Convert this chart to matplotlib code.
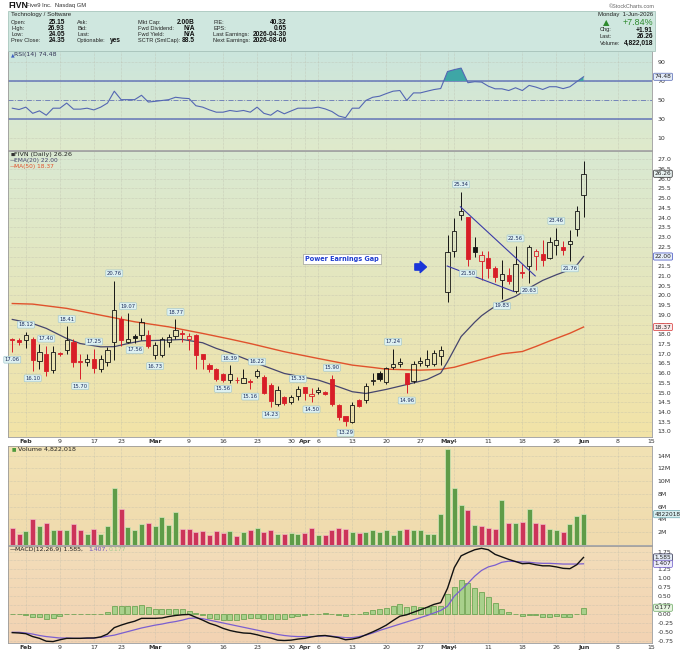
import matplotlib.pyplot as plt
import matplotlib.transforms as mtransforms
import numpy as np
import pandas as pd

# ---- data --------------------------------------------------------------
holidays = ["2026-02-16", "2026-04-03", "2026-05-25"]
first_day, last_day = "2026-01-29", "2026-06-15"
prev_close0 = 17.80

opens = [17.75, 17.70, 17.70, 17.73, 16.60, 17.00, 16.15, 17.05, 17.20, 17.60,
         16.60, 16.55, 16.75, 16.22, 16.58, 17.60, 18.80, 17.62, 17.90, 17.95,
         17.95, 16.93, 16.95, 17.60, 17.90, 18.05, 17.75, 17.95, 16.97, 16.40,
         16.20, 15.95, 15.64, 15.66, 15.50, 15.60, 15.84, 15.80, 15.40, 14.43,
         14.75, 14.52, 14.81, 15.26, 14.82, 15.03, 15.03, 15.72, 14.35, 13.78,
         13.50, 14.60, 14.64, 15.60, 16.00, 15.55, 16.29, 16.46, 15.98, 15.58,
         16.53, 16.41, 16.46, 16.87, 20.15, 22.26, 24.15, 24.02, 22.47, 21.78,
         21.92, 21.40, 20.80, 21.05, 20.20, 21.18, 21.52, 22.05, 22.14, 21.92,
         22.60, 22.47, 22.65, 23.40, 25.15]
highs = [17.80, 17.78, 18.12, 17.85, 17.50, 17.40, 17.40, 17.10, 18.41, 17.75,
         17.00, 17.00, 17.25, 16.95, 17.35, 20.76, 18.95, 19.07, 18.00, 18.85,
         18.20, 17.60, 17.85, 18.00, 18.77, 18.20, 18.05, 18.00, 17.00, 16.50,
         16.25, 16.00, 16.39, 15.80, 16.20, 15.70, 16.22, 15.90, 15.50, 15.33,
         14.80, 14.85, 15.33, 15.30, 15.25, 15.30, 15.10, 15.90, 14.40, 13.80,
         14.50, 14.65, 15.50, 15.98, 16.10, 16.30, 17.24, 16.80, 16.00, 16.60,
         16.85, 17.18, 17.20, 17.38, 23.10, 24.00, 25.34, 24.05, 23.00, 22.30,
         22.30, 21.50, 21.80, 21.40, 22.56, 21.60, 22.60, 22.40, 22.85, 23.00,
         23.46, 22.80, 23.35, 24.60, 26.93]
lows = [17.06, 17.45, 17.30, 16.10, 16.20, 15.85, 16.00, 16.90, 17.00, 16.30,
        15.70, 16.35, 16.00, 16.05, 16.35, 16.65, 17.40, 17.55, 17.56, 17.70,
        17.30, 16.73, 16.85, 17.35, 17.75, 17.60, 17.20, 16.20, 16.20, 16.05,
        15.60, 15.56, 15.50, 15.50, 15.47, 15.16, 15.75, 14.90, 14.23, 14.30,
        14.35, 14.40, 14.60, 14.60, 14.50, 14.90, 14.85, 14.30, 13.60, 13.29,
        13.45, 14.25, 14.45, 15.38, 15.60, 15.45, 16.20, 16.30, 14.96, 15.50,
        16.35, 16.32, 16.35, 16.41, 19.65, 22.00, 23.90, 21.50, 21.95, 20.80,
        20.90, 20.70, 19.83, 20.60, 20.10, 20.90, 20.63, 21.30, 21.50, 21.85,
        22.10, 22.10, 21.76, 23.05, 24.05]
closes = [17.72, 17.60, 17.95, 16.67, 17.10, 16.10, 17.10, 17.00, 17.70, 16.58,
          16.55, 16.75, 16.25, 16.72, 17.18, 19.27, 17.70, 17.75, 17.82, 18.65,
          17.40, 17.46, 17.75, 17.88, 18.20, 18.02, 17.93, 16.92, 16.72, 16.20,
          15.72, 15.64, 15.93, 15.63, 15.77, 15.55, 16.12, 14.95, 14.57, 15.12,
          14.44, 14.75, 15.16, 14.98, 14.94, 15.15, 14.93, 14.40, 13.72, 13.54,
          14.35, 14.33, 15.33, 15.62, 15.72, 16.24, 16.46, 16.58, 15.43, 16.49,
          16.63, 16.75, 17.01, 17.18, 22.22, 23.32, 24.32, 21.88, 22.21, 22.07,
          21.40, 20.94, 21.10, 20.72, 21.60, 21.13, 22.48, 22.27, 21.83, 22.77,
          22.85, 22.35, 22.80, 24.35, 26.26]
volume_m = [2.7, 1.8, 2.2, 4.0, 3.0, 3.5, 2.35, 2.35, 2.35, 3.3,
            2.4, 1.7, 2.55, 1.7, 3.0, 9.0, 5.6, 2.8, 2.35, 3.3,
            3.45, 2.9, 4.4, 3.1, 5.2, 2.5, 2.5, 2.1, 2.2, 1.6,
            2.25, 1.9, 2.25, 1.35, 2.0, 2.35, 2.6, 2.0, 2.35, 1.8,
            1.8, 1.9, 1.8, 1.9, 2.6, 1.55, 1.55, 2.35, 2.65, 2.45,
            2.0, 1.9, 2.1, 2.35, 2.1, 2.35, 1.55, 2.3, 2.45, 2.35,
            2.35, 1.8, 1.8, 4.85, 15.1, 8.9, 6.2, 5.5, 3.1, 3.0,
            2.7, 2.55, 7.05, 3.4, 3.45, 3.6, 5.6, 3.4, 3.3, 2.45,
            2.35, 2.1, 3.3, 4.55, 4.822018]

rsi = [41.4, 40.0, 42.5, 36.0, 38.6, 34.0, 41.4, 41.4, 46.8, 40.4,
       40.4, 41.4, 39.6, 42.5, 46.8, 59.3, 50.4, 50.4, 50.4, 55.0,
       47.9, 48.6, 49.5, 50.4, 52.9, 52.0, 51.5, 44.0, 42.5, 39.6,
       37.2, 37.2, 39.0, 38.0, 39.0, 37.2, 42.5, 36.0, 34.0, 39.0,
       35.5, 38.5, 41.4, 41.4, 41.4, 42.5, 40.7, 37.9, 33.2, 31.4,
       41.4, 41.4, 49.6, 52.9, 54.0, 56.8, 59.3, 60.0, 49.6, 57.5,
       57.5, 59.3, 61.0, 62.1, 80.0, 82.0, 83.6, 68.2, 69.3, 68.9,
       64.6, 61.8, 61.8, 60.0, 62.9, 60.0, 65.4, 63.6, 61.1, 64.0,
       64.0, 62.0, 64.0, 69.3, 74.48]

macd = [-0.52, -0.53, -0.55, -0.63, -0.68, -0.76, -0.77, -0.72, -0.68, -0.68,
        -0.68, -0.67, -0.67, -0.64, -0.56, -0.38, -0.31, -0.25, -0.20, -0.12,
        -0.12, -0.12, -0.11, -0.07, -0.04, -0.02, -0.01, -0.09, -0.17, -0.26,
        -0.32, -0.40, -0.46, -0.50, -0.53, -0.54, -0.58, -0.63, -0.67, -0.73,
        -0.74, -0.73, -0.70, -0.68, -0.64, -0.61, -0.60, -0.63, -0.66, -0.72,
        -0.70, -0.66, -0.58, -0.50, -0.41, -0.31, -0.18, -0.06, -0.02, 0.05,
        0.12, 0.19, 0.27, 0.32, 0.72, 1.30, 1.63, 1.72, 1.80, 1.84,
        1.80, 1.67, 1.60, 1.53, 1.47, 1.41, 1.42, 1.38, 1.35, 1.35,
        1.32, 1.28, 1.27, 1.38, 1.585]
signal = [-0.51, -0.51, -0.53, -0.56, -0.60, -0.63, -0.65, -0.67, -0.67, -0.68,
          -0.68, -0.68, -0.67, -0.65, -0.62, -0.59, -0.54, -0.49, -0.44, -0.39,
          -0.35, -0.31, -0.28, -0.24, -0.21, -0.17, -0.12, -0.11, -0.13, -0.17,
          -0.21, -0.25, -0.29, -0.33, -0.37, -0.41, -0.45, -0.49, -0.53, -0.57,
          -0.60, -0.62, -0.63, -0.63, -0.63, -0.62, -0.61, -0.62, -0.64, -0.66,
          -0.66, -0.63, -0.59, -0.53, -0.46, -0.40, -0.34, -0.28, -0.22, -0.16,
          -0.10, -0.04, 0.03, 0.10, 0.22, 0.50, 0.68, 0.86, 1.06, 1.22,
          1.32, 1.37, 1.45, 1.48, 1.47, 1.46, 1.45, 1.43, 1.42, 1.42,
          1.41, 1.40, 1.40, 1.40, 1.407]
hist = [-0.01, -0.01, -0.02, -0.07, -0.07, -0.13, -0.11, -0.05, -0.01, -0.01,
        -0.01, 0.00, -0.01, 0.01, 0.07, 0.22, 0.23, 0.23, 0.23, 0.26,
        0.20, 0.15, 0.14, 0.14, 0.14, 0.13, 0.09, 0.02, -0.04, -0.10,
        -0.15, -0.17, -0.17, -0.17, -0.15, -0.12, -0.10, -0.13, -0.15, -0.15,
        -0.13, -0.09, -0.05, -0.02, 0.00, 0.01, 0.02, 0.01, -0.03, -0.05,
        -0.01, 0.00, 0.06, 0.11, 0.14, 0.18, 0.22, 0.27, 0.21, 0.22,
        0.20, 0.20, 0.22, 0.22, 0.55, 0.77, 0.95, 0.86, 0.74, 0.62,
        0.48, 0.30, 0.15, 0.05, 0.00, -0.05, -0.03, -0.03, -0.07, -0.07,
        -0.05, -0.08, -0.08, -0.01, 0.177]

ema_idx = [0, 3, 5, 8, 10, 13, 15, 17, 19, 23, 25, 28, 30, 32, 35, 40, 45, 48, 50, 52,
           55, 58, 61, 63, 64, 65, 66, 67, 68, 69, 70, 72, 74, 76, 78, 80, 82, 83, 84]
ema_val = [18.76, 18.55, 18.30, 17.78, 17.52, 17.35, 17.36, 17.52, 17.66, 17.70,
           17.73, 17.56, 17.27, 17.04, 16.63, 15.98, 15.64, 15.29, 15.04, 14.95,
           15.16, 15.41, 15.67, 16.00, 16.58, 17.23, 17.88, 18.25, 18.62, 18.95,
           19.20, 19.67, 19.95, 20.38, 20.77, 21.06, 21.32, 21.55, 22.00]
ma_idx = [0, 3, 8, 13, 18, 23, 28, 32, 35, 40, 45, 50, 53, 55, 60, 63, 65, 67, 70, 72,
          75, 77, 79, 82, 84]
ma_val = [19.58, 19.55, 19.33, 18.98, 18.64, 18.38, 18.04, 17.75, 17.52, 17.10,
          16.75, 16.41, 16.29, 16.20, 16.15, 16.19, 16.30, 16.50, 16.80, 16.99,
          17.11, 17.37, 17.65, 18.05, 18.37]

# swing high / low labels
hl_idx = [0, 2, 3, 5, 8, 10, 12, 15, 17, 18, 21, 24, 31, 32, 35, 36, 38, 42, 44, 47,
          49, 56, 58, 66, 67, 72, 74, 76, 80, 82]
hl_val = [17.06, 18.12, 16.10, 17.40, 18.41, 15.70, 17.25, 20.76, 19.07, 17.56,
          16.73, 18.77, 15.56, 16.39, 15.16, 16.22, 14.23, 15.33, 14.50, 15.90,
          13.29, 17.24, 14.96, 25.34, 21.50, 19.83, 22.56, 20.63, 23.46, 21.76]
hl_side = ['L', 'H', 'L', 'H', 'H', 'L', 'H', 'H', 'H', 'L',
           'L', 'H', 'L', 'H', 'L', 'H', 'L', 'H', 'L', 'H',
           'L', 'H', 'L', 'H', 'L', 'L', 'H', 'L', 'H', 'L']

# hand-drawn trend lines (bar index, price)
trend_upper = ([65.9, 76.9], [24.56, 21.00])
trend_lower = ([63.96, 73.8], [21.51, 20.19])
note_text, note_pos = "Power Earnings Gap", (48.5, 21.87)
arrow_pos = (60.1, 21.46)

hdr_cols = [
    (["Open:", "High:", "Low:", "Prev Close:"], ["25.15", "26.93", "24.05", "24.35"]),
    (["Ask:", "Bid:", "Last:", "Optionable:"], ["", "", "", "yes"]),
    (["Mkt Cap:", "Fwd Dividend:", "Fwd Yield:", "SCTR (SmlCap):"], ["2.00B", "N/A", "N/A", "88.5"]),
    (["P/E:", "EPS:", "Last Earnings:", "Next Earnings:"], ["40.32", "0.65", "2026-04-30", "2026-08-06"]),
]
hdr_right = [("Chg:", "+1.91"), ("Last:", "26.26"), ("Volume:", "4,822,018")]

# ---- setup -------------------------------------------------------------
W, H = 680, 654
fig = plt.figure(figsize=(W / 100, H / 100), dpi=100)
fig.patch.set_facecolor('white')
HDR_FONT = 'Liberation Sans'


def fx(px):
    return px / W


def fy(py):
    return 1 - py / H


def ftext(px, py, s, **kw):
    kw.setdefault('fontsize', 4.6)
    kw.setdefault('va', 'center')
    return fig.text(fx(px), fy(py), s, **kw)


LEFT, RIGHT = 8, 652


def add_panel(top, bottom):
    return fig.add_axes([fx(LEFT), fy(bottom), fx(RIGHT) - fx(LEFT), (bottom - top) / H])


def gradient(ax, c_top, c_bot):
    t = np.linspace(0, 1, 64)[:, None, None]
    a = np.array(plt.matplotlib.colors.to_rgb(c_top))
    b = np.array(plt.matplotlib.colors.to_rgb(c_bot))
    ax.imshow(a * (1 - t) + b * t, extent=[0, 1, 0, 1], transform=ax.transAxes,
              aspect='auto', zorder=0, interpolation='bilinear')


days = pd.bdate_range(first_day, last_day)
days = days[~days.isin(pd.to_datetime(holidays))]
n = len(closes)
x = np.arange(n)

ticks, tick_labels, tick_bold = [], [], []
for k in range(1, len(days)):
    d, p = days[k], days[k - 1]
    if d.month != p.month:
        ticks.append(k); tick_labels.append(d.strftime('%b')); tick_bold.append(True)
    elif d.weekday() < p.weekday():
        ticks.append(k); tick_labels.append(str(d.day)); tick_bold.append(False)

ax_rsi = add_panel(51, 150)
ax_px = add_panel(151, 437)
ax_vol = add_panel(446, 545)
ax_macd = add_panel(546, 643)

gradient(ax_rsi, '#cbe5dd', '#dfeacb')
gradient(ax_px, '#d9e9d2', '#f2e3a7')
gradient(ax_vol, '#f2e2b4', '#f0dbae')
gradient(ax_macd, '#f3ddb9', '#f2d3b3')

for ax in (ax_rsi, ax_px, ax_vol, ax_macd):
    ax.set_xlim(-0.63, 94.07)
    ax.set_xticks(ticks)
    ax.set_axisbelow(True)
    ax.grid(True, color='#b9b9aa', lw=0.4, ls=(0, (1, 1.5)))
    ax.yaxis.tick_right()
    ax.tick_params(axis='both', length=0, labelsize=4.5, labelcolor='#333333', pad=2)
    ax.tick_params(axis='y', pad=4)
    for s in ax.spines.values():
        s.set_color('#9a9a9a'); s.set_linewidth(0.6)
    ax.tick_params(axis='x', labelbottom=False)

for ax in (ax_px, ax_macd):
    ax.tick_params(axis='x', labelbottom=True, pad=1.5)
    ax.set_xticklabels(tick_labels)
    for lab, b in zip(ax.get_xticklabels(), tick_bold):
        lab.set_fontweight('bold' if b else 'normal')


def tag(ax, yv, s, ec, fc='white', tc='#222222'):
    tr = mtransforms.blended_transform_factory(ax.transAxes, ax.transData)
    ax.text(1.004, yv, s, transform=tr, fontsize=4.2, color=tc, va='center', ha='left',
            clip_on=False, zorder=10,
            bbox=dict(boxstyle='round,pad=0.18', fc=fc, ec=ec, lw=0.5))


# ---- RSI ----------------------------------------------------------------
r = np.array(rsi)
ax_rsi.set_ylim(-2.6, 101.6)
ax_rsi.set_yticks([10, 30, 50, 70, 90])
ax_rsi.axhline(70, color='#6576b8', lw=1.1, zorder=2)
ax_rsi.axhline(30, color='#6576b8', lw=1.1, zorder=2)
ax_rsi.axhline(50, color='#6576b8', lw=0.6, ls=(0, (6, 2, 1, 2)), zorder=2)
ax_rsi.fill_between(x, r, 70, where=r >= 70, interpolate=True, color='#3ea6a6', lw=0, zorder=3)
ax_rsi.plot(x, r, color='#5467b3', lw=0.8, zorder=4)
tag(ax_rsi, r[-1], f"{r[-1]:.2f}", '#5467b3', fc='#e4ecf8')
ftext(14, 54.5, "RSI(14) 74.48", fontsize=4.5, color='#333355')
ftext(10.5, 54.5, "\u25b2", fontsize=3.4, color='#4060c0')

# ---- price --------------------------------------------------------------
o, hi, lo, c = (np.array(v) for v in (opens, highs, lows, closes))
prev = np.r_[prev_close0, c[:-1]]
edge = np.where(c < prev, '#d81e28', '#141414')
face = np.where(c < o, edge, 'none')
top, bot = np.maximum(o, c), np.minimum(o, c)
ax_px.set_ylim(12.71, 27.43)
ax_px.set_yticks(np.arange(13.0, 27.01, 0.5))
ax_px.yaxis.set_major_formatter(plt.FormatStrFormatter('%.1f'))

ax_px.plot(ma_idx, ma_val, color='#e0522c', lw=1.0, zorder=2)
ax_px.plot(ema_idx, ema_val, color='#45456e', lw=0.9, zorder=2)
ax_px.vlines(x, top, hi, colors=edge, lw=0.7, zorder=3)
ax_px.vlines(x, lo, bot, colors=edge, lw=0.7, zorder=3)
ax_px.bar(x, np.maximum(top - bot, 0.03), 0.6, bottom=bot, color=face, edgecolor=edge,
          lw=0.6, zorder=4)

for i, v, sd in zip(hl_idx, hl_val, hl_side):
    off = 5.2 if sd == 'H' else -5.2
    ax_px.annotate(f"{v:.2f}", (i, v), xytext=(0, off), textcoords='offset points',
                   ha='center', va='center', fontsize=3.8, color='#1c2c5c', zorder=6,
                   bbox=dict(boxstyle='round,pad=0.18', fc='#def1f1', ec='#9cc3cb', lw=0.4))

ax_px.plot(*trend_upper, color='#3b3ba8', lw=0.8, zorder=5)
ax_px.plot(*trend_lower, color='#3b3ba8', lw=0.8, zorder=5)
ax_px.text(*note_pos, note_text, ha='center', va='center', fontsize=4.7, fontweight='bold',
           color='#1e3cd0', zorder=6,
           bbox=dict(boxstyle='square,pad=0.35', fc='white', ec='#8a8a8a', lw=0.4))
ax_px.annotate('', xy=(arrow_pos[0] + 0.8, arrow_pos[1]), xytext=(arrow_pos[0] - 0.9, arrow_pos[1]),
               arrowprops=dict(arrowstyle='simple,head_length=0.45,head_width=0.8,tail_width=0.45',
                               fc='#1a35d8', ec='#1a35d8', shrinkA=0, shrinkB=0), zorder=6)

tag(ax_px, c[-1], f"{c[-1]:.2f}", '#222222', fc='#e8f2f2')
tag(ax_px, ema_val[-1], f"{ema_val[-1]:.2f}", '#3c4cc0', fc='#e6eefa')
tag(ax_px, ma_val[-1], f"{ma_val[-1]:.2f}", '#d83030', fc='#fbeaea')
ftext(14, 154.5, "FIVN (Daily) 26.26", fontsize=4.6, color='#222222')
ftext(10.5, 154.5, "\u25a0", fontsize=3.2, color='#333333')
ftext(10, 160.5, "\u2014", fontsize=4.4, color='#45456e')
ftext(14.5, 160.5, "EMA(20) 22.00", fontsize=4.2, color='#45456e')
ftext(10, 166.5, "\u2014", fontsize=4.4, color='#e0522c')
ftext(14.5, 166.5, "MA(50) 18.37", fontsize=4.2, color='#e0522c')

# ---- volume ---------------------------------------------------------------
v = np.array(volume_m) * 1e6
vdown = c < prev
ax_vol.set_ylim(0, 15.5e6)
ax_vol.set_yticks(np.arange(2e6, 14.1e6, 2e6))
ax_vol.set_yticklabels([f"{int(t / 1e6)}M" for t in np.arange(2e6, 14.1e6, 2e6)])
ax_vol.bar(x, v, 0.72, color=np.where(vdown, '#cc3459', '#5f9c48'),
           edgecolor=np.where(vdown, '#f1b9c6', '#d2e8bc'), lw=0.5, zorder=3)
tag(ax_vol, v[-1], f"{int(v[-1])}", '#6aa8b0', fc='#d7eef0')
ftext(18, 448.8, "Volume 4,822,018", fontsize=4.6, color='#222222')
ftext(12, 448.8, "\u25a0", fontsize=3.4, color='#4f9a3c')

# ---- MACD ---------------------------------------------------------------
m, sg, hs = np.array(macd), np.array(signal), np.array(hist)
ax_macd.set_ylim(-0.81, 1.905)
ax_macd.set_yticks(np.arange(-0.75, 1.76, 0.25))
ax_macd.yaxis.set_major_formatter(plt.FormatStrFormatter('%.2f'))
ax_macd.bar(x, hs, 0.72, color='#a8d08b', edgecolor='#5e9c45', lw=0.5, zorder=3)
ax_macd.plot(x, sg, color='#7b5fd0', lw=0.9, zorder=4)
ax_macd.plot(x, m, color='#111111', lw=1.0, zorder=5)
tag(ax_macd, m[-1], f"{m[-1]:.3f}", '#222244', fc='#e6eef8')
tag(ax_macd, sg[-1], f"{sg[-1]:.3f}", '#6a55c8', fc='#ecebfa')
tag(ax_macd, hs[-1], f"{hs[-1]:.3f}", '#6aa860', fc='#e6f4e0')
ftext(10, 549.5, "\u2014", fontsize=4.4, color='#111111')
ftext(15, 549.5, "MACD(12,26,9) 1.585,", fontsize=4.4, color='#222222')
ftext(88, 549.5, "1.407,", fontsize=4.4, color='#6a4fc0')
ftext(109, 549.5, "0.177", fontsize=4.4, color='#9cc98a')

# ---- header ---------------------------------------------------------------
fig.patches.append(plt.Rectangle((fx(8), fy(50.5)), fx(655) - fx(8), (50.5 - 11) / H,
                                 transform=fig.transFigure, fc='#cfe7df', ec='#a9c6be', lw=0.6))
ftext(8, 5, "FIVN", fontsize=6.2, fontweight='bold', color='#111111', family=HDR_FONT)
ftext(26, 5.4, "Five9 Inc.  Nasdaq GM", fontsize=4.2, color='#333333', family=HDR_FONT)
ftext(655, 6, "\u00a9StockCharts.com", fontsize=4.0, color='#666666', ha='right', family=HDR_FONT)
ftext(11, 14.7, "Technology / Software", fontsize=4.4, color='#222222', family=HDR_FONT)
col_x = [(11, 65), (77, 121), (138, 195), (213, 287)]
row_y = [22.3, 28.7, 34.6, 40.6]
for (lx, rx), (labs, vals) in zip(col_x, hdr_cols):
    for yy, lb, vl in zip(row_y, labs, vals):
        ftext(lx, yy, lb, fontsize=4.1, color='#222222', family=HDR_FONT)
        if vl:
            ftext(rx, yy, vl, ha='right', fontsize=4.8, fontweight='bold', color='#111111',
                  family=HDR_FONT)
ftext(653, 14.7, "Monday  1-Jun-2026", ha='right', fontsize=4.3, color='#222222', family=HDR_FONT)
ftext(606, 22.7, "\u25b2", fontsize=6, color='#2e8a2e', ha='center')
ftext(653, 22.7, "+7.84%", ha='right', fontsize=6.4, color='#2e8a2e', family=HDR_FONT)
for yy, (lb, vl) in zip([30, 36.5, 43.2], hdr_right):
    ftext(600, yy, lb, fontsize=4.1, color='#222222', family=HDR_FONT)
    ftext(653, yy, vl, ha='right', fontsize=4.8, fontweight='bold', color='#111111',
          family=HDR_FONT)

fig.savefig("out.png", dpi=100)
